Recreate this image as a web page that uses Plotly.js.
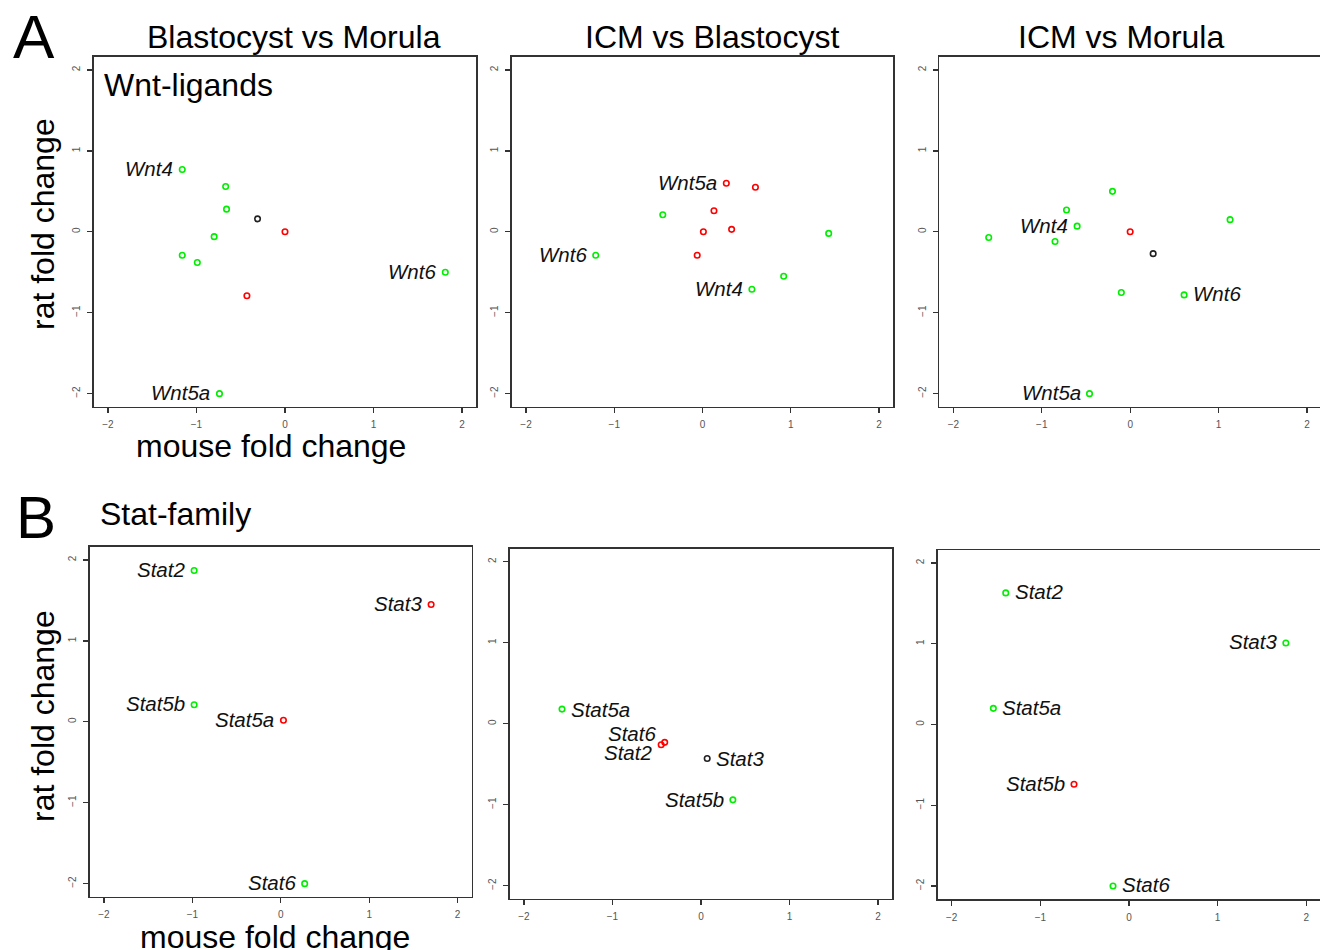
<!DOCTYPE html>
<html>
<head>
<meta charset="utf-8">
<script src="https://cdn.plot.ly/plotly-3.0.1.min.js"></script>
<style>html,body{margin:0;padding:0;background:#fff;}#chart{width:1320px;height:950px;}</style>
</head>
<body>
<div id="chart"></div>
<script>
// ---------- DATA ----------
const tickValues = [-2, -1, 0, 1, 2];
const tickLabels = ['\u22122', '\u22121', '0', '1', '2'];

// Panel A1: Blastocyst vs Morula (Wnt-ligands)
const wntBM_x   = [-1.16, -0.67, -0.66, -0.31, 0.00, -0.80, -1.16, -0.99, -0.43, 1.81, -0.74];
const wntBM_y   = [ 0.77,  0.56,  0.28,  0.16, 0.00, -0.06, -0.29, -0.38, -0.79, -0.50, -2.00];
const wntBM_col = ['g','g','g','k','r','g','g','g','r','g','g'];
const wntBM_lab = ['Wnt4','','','','','','','','','Wnt6','Wnt5a'];

// Panel A2: ICM vs Blastocyst
const wntIB_x   = [0.27, 0.60, 0.13, -0.45, 0.01, 0.33, 1.43, -1.21, -0.06, 0.92, 0.56];
const wntIB_y   = [0.60, 0.55, 0.26,  0.21, 0.00, 0.03, -0.02, -0.29, -0.29, -0.55, -0.71];
const wntIB_col = ['r','r','r','g','r','r','g','g','r','g','g'];
const wntIB_lab = ['Wnt5a','','','','','','','Wnt6','','','Wnt4'];

// Panel A3: ICM vs Morula
const wntIM_x   = [-0.20, -0.72, -0.60, -1.60, -0.85, 0.00, 0.26, 1.13, -0.10, 0.61, -0.46];
const wntIM_y   = [ 0.50,  0.27,  0.07, -0.07, -0.12, 0.00, -0.27, 0.15, -0.75, -0.78, -2.00];
const wntIM_col = ['g','g','g','g','g','r','k','g','g','g','g'];
const wntIM_lab = ['','','Wnt4','','','','','','','Wnt6','Wnt5a'];

// Panel B: Stat-family genes
const statGenes = ['Stat2', 'Stat3', 'Stat5a', 'Stat5b', 'Stat6'];
const statBM_x   = [-0.98, 1.70, 0.03, -0.98, 0.27];
const statBM_y   = [ 1.87, 1.45, 0.02,  0.21, -2.00];
const statBM_col = ['g','r','r','g','g'];
const statIB_x   = [-0.45, 0.07, -1.57, 0.36, -0.41];
const statIB_y   = [-0.26, -0.43, 0.18, -0.94, -0.23];
const statIB_col = ['r','k','g','g','r'];
const statIM_x   = [-1.39, 1.77, -1.53, -0.62, -0.18];
const statIM_y   = [ 1.63, 1.01,  0.20, -0.74, -2.00];
const statIM_col = ['g','g','g','r','g'];

const panelTitles = ['Blastocyst vs Morula', 'ICM vs Blastocyst', 'ICM vs Morula'];

// ---------- STYLE / PLACEMENT ----------
const W = 1320, H = 950;
const colorMap = {g: '#00ee00', r: '#ff0000', k: '#222222'};
const FONT = '"Liberation Sans", Arial, Helvetica, sans-serif';
const BIG = 32;
const px = v => v / W;
const py = v => 1 - v / H;

// pixel boxes [left,right,top,bottom] and ranges
const panels = [
  {box: [93.7, 476.3, 57.0, 406.6],  xr: [-2.16, 2.16],  yr: [-2.16, 2.16]},
  {box: [511.9, 893.1, 57.0, 406.6], xr: [-2.16, 2.16],  yr: [-2.16, 2.16]},
  {box: [939.2, 1320, 57.0, 406.6],  xr: [-2.16, 2.147], yr: [-2.16, 2.16]},
  {box: [89.8, 471.8, 547.0, 896.6], xr: [-2.16, 2.16],  yr: [-2.16, 2.16]},
  {box: [509.8, 892.2, 548.7, 898.7],xr: [-2.16, 2.16],  yr: [-2.16, 2.16]},
  {box: [937.5, 1320, 550.1, 898.9], xr: [-2.16, 2.155], yr: [-2.16, 2.16]}
];

// label sides (L = text left of point, R = right) and vertical nudges (px)
const sides = [
  ['L','L','L','L','L','L','L','L','L','L','L'],
  ['L','L','L','L','L','L','L','L','L','L','L'],
  ['L','L','L','L','L','L','L','L','L','R','L'],
  ['L','L','L','L','L'],
  ['L','R','R','L','L'],
  ['R','L','R','L','R']
];
const yNudge = [
  null, null, null, null,
  [-8, 0, 0, 0, 9],
  null
];

const series = [
  {x: wntBM_x, y: wntBM_y, c: wntBM_col, l: wntBM_lab},
  {x: wntIB_x, y: wntIB_y, c: wntIB_col, l: wntIB_lab},
  {x: wntIM_x, y: wntIM_y, c: wntIM_col, l: wntIM_lab},
  {x: statBM_x, y: statBM_y, c: statBM_col, l: statGenes},
  {x: statIB_x, y: statIB_y, c: statIB_col, l: statGenes},
  {x: statIM_x, y: statIM_y, c: statIM_col, l: statGenes}
];

const traces = [];
const annotations = [];
const layout = {
  width: W, height: H,
  margin: {l: 0, r: 0, t: 0, b: 0},
  paper_bgcolor: '#fff', plot_bgcolor: '#fff',
  showlegend: false,
  font: {family: FONT, color: '#000'}
};

series.forEach((s, i) => {
  const n = i + 1;
  const xa = n === 1 ? 'x' : 'x' + n;
  const ya = n === 1 ? 'y' : 'y' + n;
  const p = panels[i];
  traces.push({
    type: 'scatter', mode: 'markers', xaxis: xa, yaxis: ya,
    x: s.x, y: s.y, hoverinfo: 'skip',
    marker: {symbol: 'circle-open', size: 5.5, color: s.c.map(k => colorMap[k]),
             line: {width: 1.6, color: s.c.map(k => colorMap[k])}}
  });
  const axisCommon = {
    showgrid: false, zeroline: false, showline: true, mirror: true,
    linecolor: '#333', linewidth: 1.6,
    ticks: 'outside', ticklen: 5, tickwidth: 1.3, tickcolor: '#333',
    tickmode: 'array', tickvals: tickValues, ticktext: tickLabels,
    tickfont: {size: 10, color: '#555', family: FONT},
    fixedrange: true
  };
  layout[xa === 'x' ? 'xaxis' : 'xaxis' + n] = Object.assign({}, axisCommon, {
    domain: [px(p.box[0]), Math.min(1, px(p.box[1]))], range: p.xr, anchor: ya, ticklabelstandoff: 3
  });
  layout[ya === 'y' ? 'yaxis' : 'yaxis' + n] = Object.assign({}, axisCommon, {
    domain: [py(p.box[3]), py(p.box[2])], range: p.yr, anchor: xa, tickangle: -90, ticklabelstandoff: 3
  });
  s.l.forEach((lab, j) => {
    if (!lab) return;
    const side = sides[i][j];
    annotations.push({
      xref: xa, yref: ya, x: s.x[j], y: s.y[j],
      text: '<i>' + lab + '</i>', showarrow: false,
      xanchor: side === 'L' ? 'right' : 'left', yanchor: 'middle',
      xshift: side === 'L' ? -7 : 7,
      yshift: yNudge[i] ? yNudge[i][j] : 1,
      font: {size: 20.5, family: FONT, color: '#111'}
    });
  });
});

function paperText(text, x, y, size, opts) {
  annotations.push(Object.assign({
    xref: 'paper', yref: 'paper', x: px(x), y: py(y), text: text,
    showarrow: false, xanchor: 'center', yanchor: 'middle',
    font: {size: size, family: FONT, color: '#000'}
  }, opts || {}));
}
paperText(panelTitles[0], 294, 37, BIG);
paperText(panelTitles[1], 712, 37, BIG);
paperText(panelTitles[2], 1121, 37, BIG);
paperText('A', 34, 37, 62);
paperText('B', 36, 517, 60);
paperText('Wnt-ligands', 102, 85, BIG, {xanchor: 'left'});
paperText('Stat-family', 98, 514, BIG, {xanchor: 'left'});
paperText('mouse fold change', 271, 446, BIG);
paperText('mouse fold change', 275, 937, BIG);
paperText('rat fold change', 43, 224, BIG, {textangle: -90});
paperText('rat fold change', 43, 716, BIG, {textangle: -90});

layout.annotations = annotations;
Plotly.newPlot('chart', traces, layout, {staticPlot: true, displayModeBar: false});
</script>
</body>
</html>
